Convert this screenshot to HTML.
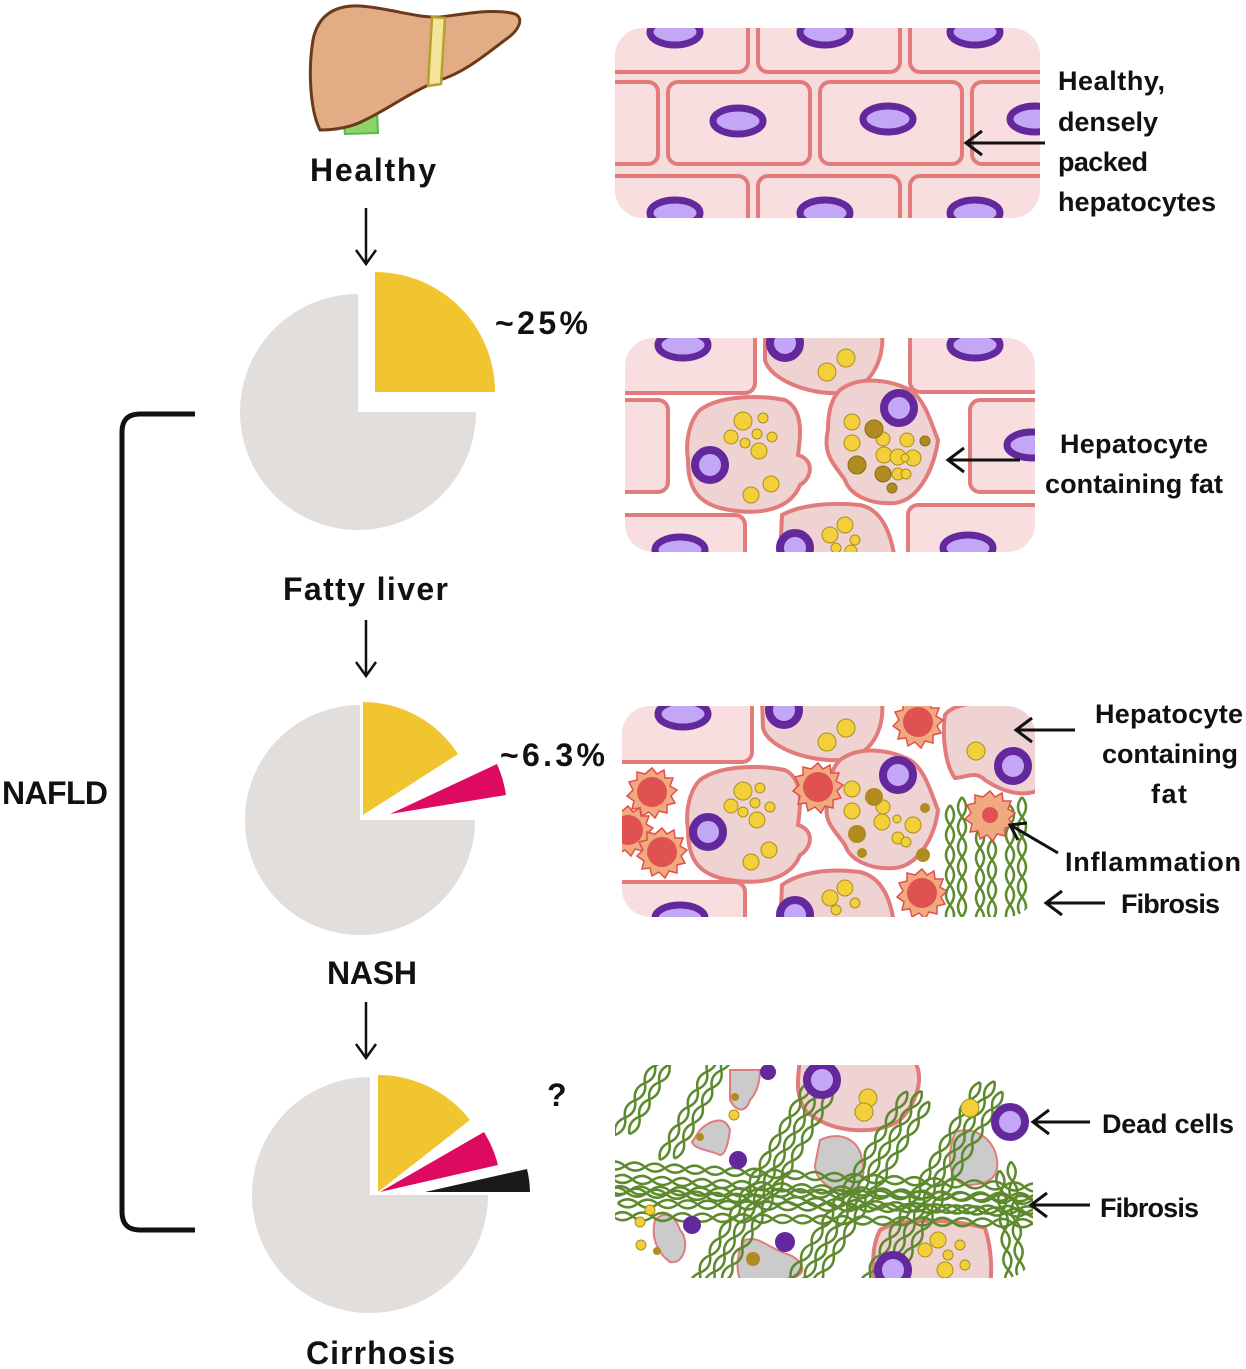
<!DOCTYPE html>
<html><head><meta charset="utf-8"><style>
html,body{margin:0;padding:0;background:#fff}
svg{display:block}
text{font-family:"Liberation Sans",sans-serif;font-weight:bold;fill:#111}
</style></head><body>
<svg width="1246" height="1369" viewBox="0 0 1246 1369" xmlns="http://www.w3.org/2000/svg">
<defs>
<g id="nuc"><ellipse cx="0" cy="0" rx="25" ry="13" fill="#c3a6f5" stroke="#63289c" stroke-width="7"/></g>
<g id="rnuc"><circle cx="0" cy="0" r="15" fill="#c3a6f5" stroke="#63289c" stroke-width="8"/></g>
<g id="red"><polygon points="0,-24 5,-18 12,-22 13,-14 21,-14 18,-6 25,-2 19,4 23,11 15,13 15,21 7,19 3,26 -3,20 -10,24 -12,16 -20,17 -18,9 -25,4 -19,-2 -23,-10 -15,-12 -15,-20 -7,-18" fill="#f0aa80" stroke="#e0504a" stroke-width="1.5"/><circle r="15" fill="#e05252"/></g>
<path id="wA" d="M0,0 Q10,-8 20,0 T40,0 T60,0 T80,0 T100,0 T120,0 T140,0 T160,0 T180,0 T200,0 T220,0 T240,0 T260,0 T280,0 T300,0 T320,0 T340,0 T360,0 T380,0 T400,0 T420,0 T440,0 T460,0 T480,0 T500,0"/>
<path id="wB" d="M0,0 Q10,8 20,0 T40,0 T60,0 T80,0 T100,0 T120,0 T140,0 T160,0 T180,0 T200,0 T220,0 T240,0 T260,0 T280,0 T300,0 T320,0 T340,0 T360,0 T380,0 T400,0 T420,0 T440,0 T460,0 T480,0 T500,0"/>
<path id="sA" d="M0,0 Q10,-8 20,0 T40,0 T60,0 T80,0 T100,0 T120,0"/>
<path id="sB" d="M0,0 Q10,8 20,0 T40,0 T60,0 T80,0 T100,0 T120,0"/>
<path id="mA" d="M0,0 Q10,-8 20,0 T40,0 T60,0 T80,0 T100,0 T120,0 T140,0 T160,0 T180,0 T200,0 T220,0 T240,0"/>
<path id="mB" d="M0,0 Q10,8 20,0 T40,0 T60,0 T80,0 T100,0 T120,0 T140,0 T160,0 T180,0 T200,0 T220,0 T240,0"/>
<g id="fib" fill="none" stroke="#5d8a2d" stroke-width="2.5">
<use href="#wA"/><use href="#wB"/>
<use href="#wA" x="8" y="13"/><use href="#wB" x="8" y="13"/>
<use href="#wA" x="3" y="26"/><use href="#wB" x="3" y="26"/>
</g>
<g id="fibS" fill="none" stroke="#5d8a2d" stroke-width="2.5">
<use href="#sA"/><use href="#sB"/>
<use href="#sA" x="8" y="12"/><use href="#sB" x="8" y="12"/>
</g>
<g id="fibM" fill="none" stroke="#5d8a2d" stroke-width="2.5">
<use href="#mA"/><use href="#mB"/>
<use href="#mA" x="8" y="12"/><use href="#mB" x="8" y="12"/>
<use href="#mA" x="3" y="24"/><use href="#mB" x="3" y="24"/>
</g>
<clipPath id="c1"><rect x="615" y="28" width="425" height="190" rx="28"/></clipPath>
<clipPath id="c2"><rect x="625" y="338" width="410" height="214" rx="28"/></clipPath>
<clipPath id="c3"><rect x="622" y="706" width="413" height="211" rx="28"/></clipPath>
<clipPath id="c4"><rect x="615" y="1065" width="418" height="213" rx="28"/></clipPath>
</defs>

<!-- liver -->
<path d="M343,118 L377,110 L378,133 L345,134 Z" fill="#8fd46a" stroke="#5bb84a" stroke-width="2"/>
<path d="M313,40 C318,15 335,5 360,6 C390,8 415,18 440,17 C465,14 495,8 515,14 C524,18 520,30 505,40 C485,55 465,72 440,80 C410,92 390,108 365,120 C350,128 335,130 320,130 C310,110 308,70 313,40 Z" fill="#e2ac85" stroke="#6b3a1a" stroke-width="3"/>
<path d="M432,17 L445,18 L441,84 L428,86 Z" fill="#f3e49a" stroke="#b5a030" stroke-width="2.5"/>

<text x="310" y="181" font-size="32" textLength="126">Healthy</text>
<g stroke="#111" stroke-width="2.5" fill="none">
<path d="M366,208 V264 M356,250 L366,264 L376,250"/>
<path d="M366,620 V676 M356,662 L366,676 L376,662"/>
<path d="M366,1002 V1058 M356,1044 L366,1058 L376,1044"/>
</g>

<!-- pie 1 -->
<path d="M358,412 L476,412 A118,118 0 1 1 358,294 Z" fill="#e2dedc"/>
<path d="M375,392 L375,272 A120,120 0 0 1 495,392 Z" fill="#f1c52f"/>
<text x="495" y="334" font-size="32" textLength="93">~25%</text>
<text x="283" y="600" font-size="32" textLength="165">Fatty liver</text>

<!-- pie 2 -->
<path d="M360,820 L475,820 A115,115 0 1 1 360,705 Z" fill="#e2dedc"/>
<path d="M363,815 L363,702 A113,113 0 0 1 458,754 Z" fill="#f1c52f"/>
<path d="M390,814 L497,764 A118,118 0 0 1 506,795 Z" fill="#de0a62"/>
<text x="500" y="766" font-size="32" textLength="105">~6.3%</text>
<text x="327" y="984" font-size="32" textLength="90">NASH</text>

<!-- pie 3 -->
<path d="M370,1195 L488,1195 A118,118 0 1 1 370,1077 Z" fill="#e2dedc"/>
<path d="M378,1192 L378,1075 A117,117 0 0 1 470,1120 Z" fill="#f1c52f"/>
<path d="M380,1192 L484,1132 A120,120 0 0 1 498,1165 Z" fill="#de0a62"/>
<path d="M425,1192 L527,1169 A105,105 0 0 1 530,1192 Z" fill="#1a1a1a"/>
<text x="547" y="1106" font-size="32">?</text>
<text x="306" y="1364" font-size="32" textLength="149">Cirrhosis</text>

<!-- bracket -->
<path d="M195,414 L140,414 Q122,414 122,432 L122,1212 Q122,1230 140,1230 L195,1230" fill="none" stroke="#111" stroke-width="5"/>
<text x="2" y="804" font-size="32" textLength="106">NAFLD</text>

<!-- panel 1 -->
<g clip-path="url(#c1)">
<rect x="615" y="28" width="425" height="190" fill="#f7dcdc"/>
<g fill="#f8dede" stroke="#e27b7b" stroke-width="4">
<rect x="600" y="5" width="148" height="67" rx="10"/><rect x="758" y="5" width="142" height="67" rx="10"/><rect x="910" y="5" width="145" height="67" rx="10"/>
<rect x="590" y="82" width="68" height="82" rx="10"/><rect x="668" y="82" width="142" height="82" rx="10"/><rect x="820" y="82" width="142" height="82" rx="10"/><rect x="972" y="82" width="90" height="82" rx="10"/>
<rect x="600" y="176" width="148" height="70" rx="10"/><rect x="758" y="176" width="142" height="70" rx="10"/><rect x="910" y="176" width="145" height="70" rx="10"/>
</g>
<use href="#nuc" x="675" y="32"/><use href="#nuc" x="825" y="32"/><use href="#nuc" x="975" y="32"/>
<use href="#nuc" x="738" y="121"/><use href="#nuc" x="888" y="119"/><use href="#nuc" x="1035" y="119"/>
<use href="#nuc" x="675" y="213"/><use href="#nuc" x="825" y="213"/><use href="#nuc" x="975" y="213"/>
</g>
<path d="M1045,143 H968 M982,131 L966,143 L982,155" fill="none" stroke="#111" stroke-width="3"/>
<g font-size="27">
<text x="1058" y="90" textLength="107">Healthy,</text>
<text x="1058" y="131" textLength="100">densely</text>
<text x="1058" y="171" textLength="90">packed</text>
<text x="1058" y="211" textLength="158">hepatocytes</text>
</g>

<!-- panel 2 -->
<g clip-path="url(#c2)">
<g fill="#f8dede" stroke="#e27b7b" stroke-width="4">
<rect x="605" y="318" width="150" height="75" rx="10"/><rect x="910" y="318" width="140" height="74" rx="10"/>
<rect x="590" y="400" width="78" height="92" rx="10"/><rect x="970" y="400" width="80" height="92" rx="10"/>
<rect x="605" y="515" width="140" height="60" rx="10"/><rect x="908" y="505" width="140" height="70" rx="10"/>
</g>
<g fill="#efd3d3" stroke="#e27b7b" stroke-width="4">
<path d="M765,330 L882,332 C885,360 870,390 840,393 C810,395 770,380 765,360 Z"/>
<path d="M700,410 C720,395 760,395 785,400 C805,410 800,440 798,455 C815,460 812,478 800,485 C790,510 760,515 730,510 C695,505 688,485 688,460 C685,440 690,420 700,410 Z"/>
<path d="M840,390 C860,375 890,380 910,390 C925,400 930,420 938,440 C935,465 920,500 895,503 C870,505 850,495 845,480 C835,465 822,455 828,430 C828,410 832,398 840,390 Z"/>
<path d="M782,515 C800,505 830,502 860,505 C885,510 892,540 895,560 L780,560 Z"/>
</g>
<use href="#nuc" x="683" y="345"/><use href="#nuc" x="975" y="345"/><use href="#nuc" x="1032" y="445"/><use href="#nuc" x="680" y="550"/><use href="#nuc" x="968" y="548"/>
<use href="#rnuc" x="710" y="465"/><use href="#rnuc" x="899" y="408"/><use href="#rnuc" x="785" y="343"/><use href="#rnuc" x="795" y="548"/>
<g fill="#f3d03a" stroke="#a88e20" stroke-width="1">
<circle cx="827" cy="372" r="9"/><circle cx="846" cy="358" r="9"/>
<circle cx="743" cy="421" r="9"/><circle cx="763" cy="418" r="5"/><circle cx="731" cy="437" r="7"/><circle cx="757" cy="434" r="5"/><circle cx="745" cy="443" r="5"/><circle cx="772" cy="437" r="5"/><circle cx="759" cy="451" r="8"/><circle cx="771" cy="484" r="8"/><circle cx="751" cy="495" r="8"/>
<circle cx="852" cy="422" r="8"/><circle cx="852" cy="443" r="8"/><circle cx="883" cy="439" r="7"/><circle cx="884" cy="455" r="8"/><circle cx="898" cy="457" r="8"/><circle cx="907" cy="440" r="7"/><circle cx="898" cy="474" r="6"/><circle cx="913" cy="458" r="8"/><circle cx="905" cy="458" r="4"/><circle cx="906" cy="474" r="5"/>
<circle cx="830" cy="535" r="8"/><circle cx="845" cy="525" r="8"/><circle cx="855" cy="540" r="5"/><circle cx="836" cy="548" r="5"/><circle cx="851" cy="551" r="6"/>
</g>
<g fill="#b08c20" stroke="#8a6e18" stroke-width="1">
<circle cx="874" cy="429" r="9"/><circle cx="857" cy="465" r="9"/><circle cx="883" cy="474" r="8"/><circle cx="925" cy="441" r="5"/><circle cx="892" cy="488" r="5"/>
</g>
</g>
<path d="M1020,460 H950 M964,448 L948,460 L964,472" fill="none" stroke="#111" stroke-width="3"/>
<g font-size="27">
<text x="1060" y="453" textLength="148">Hepatocyte</text>
<text x="1045" y="493" textLength="178">containing fat</text>
</g>

<!-- panel 3 -->
<g clip-path="url(#c3)">
<g fill="#f8dede" stroke="#e27b7b" stroke-width="4">
<rect x="605" y="688" width="147" height="74" rx="10"/>
<rect x="605" y="882" width="140" height="60" rx="10"/>
</g>
<g fill="#efd3d3" stroke="#e27b7b" stroke-width="4">
<path d="M762,700 L882,702 C885,730 870,758 840,760 C810,762 768,748 763,728 Z"/>
<path d="M945,715 C955,700 1000,700 1040,705 L1040,790 C1020,798 1000,790 985,780 C975,770 965,778 955,778 C945,765 942,735 945,715 Z"/>
<path d="M700,780 C720,765 760,765 785,770 C805,780 800,810 798,825 C815,830 812,848 800,855 C790,880 760,885 730,880 C695,875 688,855 688,830 C685,810 690,790 700,780 Z"/>
<path d="M840,760 C860,745 890,750 910,760 C925,770 930,790 938,810 C935,835 920,865 895,868 C870,870 850,860 845,845 C835,830 822,822 828,800 C828,780 832,768 840,760 Z"/>
<path d="M782,885 C800,872 830,868 860,872 C885,878 892,905 895,930 L780,930 Z"/>
</g>
<use href="#nuc" x="683" y="714"/><use href="#nuc" x="680" y="918"/>
<use href="#rnuc" x="708" y="832"/><use href="#rnuc" x="898" y="775"/><use href="#rnuc" x="784" y="710"/><use href="#rnuc" x="1013" y="766"/><use href="#rnuc" x="795" y="915"/>
<g fill="#f3d03a" stroke="#a88e20" stroke-width="1">
<circle cx="827" cy="742" r="9"/><circle cx="846" cy="728" r="9"/><circle cx="976" cy="751" r="9"/>
<circle cx="743" cy="791" r="9"/><circle cx="760" cy="788" r="5"/><circle cx="731" cy="806" r="7"/><circle cx="755" cy="803" r="5"/><circle cx="743" cy="812" r="5"/><circle cx="770" cy="807" r="5"/><circle cx="757" cy="820" r="8"/><circle cx="769" cy="850" r="8"/><circle cx="751" cy="862" r="8"/>
<circle cx="852" cy="789" r="8"/><circle cx="852" cy="811" r="8"/><circle cx="883" cy="807" r="7"/><circle cx="882" cy="822" r="8"/><circle cx="898" cy="838" r="6"/><circle cx="913" cy="825" r="8"/><circle cx="897" cy="819" r="4"/><circle cx="906" cy="842" r="5"/>
<circle cx="830" cy="898" r="8"/><circle cx="845" cy="888" r="8"/><circle cx="855" cy="903" r="5"/><circle cx="836" cy="910" r="5"/>
</g>
<g fill="#b08c20"><circle cx="874" cy="797" r="9"/><circle cx="857" cy="834" r="9"/><circle cx="925" cy="808" r="5"/><circle cx="862" cy="853" r="5"/><circle cx="923" cy="855" r="7"/></g>
<use href="#red" x="652" y="792"/><use href="#red" x="628" y="830"/><use href="#red" x="662" y="852"/><use href="#red" x="818" y="787"/><use href="#red" x="922" y="893"/><use href="#red" x="918" y="722"/>
<use href="#fibS" transform="translate(962,797) rotate(90)"/>
<use href="#fibS" transform="translate(992,800) rotate(90)"/>
<use href="#fibS" transform="translate(1022,797) rotate(90)"/>
<g transform="translate(990,815)"><polygon points="0,-24 5,-18 12,-22 13,-14 21,-14 18,-6 25,-2 19,4 23,11 15,13 15,21 7,19 3,26 -3,20 -10,24 -12,16 -20,17 -18,9 -25,4 -19,-2 -23,-10 -15,-12 -15,-20 -7,-18" fill="#f0aa80" stroke="#e0504a" stroke-width="1.5"/><circle r="8" fill="#e05252"/></g>
</g>
<g fill="none" stroke="#111" stroke-width="3">
<path d="M1075,730 H1018 M1032,718 L1016,730 L1032,742"/>
<path d="M1058,853 L1012,826 M1018,840 L1010,825 L1027,823"/>
<path d="M1105,903 H1048 M1062,891 L1046,903 L1062,915"/>
</g>
<g font-size="27">
<text x="1095" y="723" textLength="148">Hepatocyte</text>
<text x="1102" y="763" textLength="136">containing</text>
<text x="1151" y="803" textLength="36">fat</text>
<text x="1065" y="871" textLength="176">Inflammation</text>
<text x="1121" y="913" textLength="99">Fibrosis</text>
</g>

<!-- panel 4 -->
<g clip-path="url(#c4)">
<g fill="#efd3d3" stroke="#e27b7b" stroke-width="4">
<path d="M800,1060 L915,1062 C925,1080 915,1105 900,1120 C880,1135 830,1135 805,1110 C795,1095 798,1075 800,1060 Z"/>
<path d="M880,1230 C900,1218 950,1218 985,1228 C992,1250 992,1270 990,1290 L875,1290 C872,1265 872,1245 880,1230 Z"/>
</g>
<g fill="#cbcbcb" stroke="#e27b7b" stroke-width="2">
<path d="M820,1140 C840,1130 860,1140 862,1160 C866,1175 862,1190 845,1192 C830,1190 815,1180 815,1165 Z"/>
<path d="M955,1132 C975,1125 995,1140 997,1160 C1000,1180 985,1185 965,1185 C950,1180 945,1160 955,1132 Z"/>
<path d="M730,1070 L760,1070 C760,1085 755,1095 750,1100 C745,1115 735,1110 730,1100 Z"/>
<path d="M700,1130 C710,1120 725,1115 730,1130 C728,1145 725,1155 720,1155 C710,1150 695,1150 692,1142 Z"/>
<path d="M655,1220 C665,1210 675,1215 680,1230 C690,1240 685,1265 670,1262 C660,1255 650,1240 655,1220 Z"/>
<path d="M745,1240 C760,1235 770,1250 790,1255 C810,1265 805,1280 780,1280 L740,1280 C735,1265 738,1250 745,1240 Z"/>
</g>
<use href="#fib" transform="translate(605,1165) rotate(3)"/>
<use href="#fib" transform="translate(610,1190) rotate(1)"/>
<use href="#fibM" transform="translate(690,1290) rotate(-60)"/>
<use href="#fibM" transform="translate(780,1295) rotate(-58)"/>
<use href="#fibM" transform="translate(860,1290) rotate(-60)"/>
<use href="#fibS" transform="translate(615,1135) rotate(-60)"/>
<use href="#fibS" transform="translate(660,1160) rotate(-62)"/>
<use href="#fibS" transform="translate(1010,1290) rotate(-95)"/>
<use href="#rnuc" x="822" y="1080"/><use href="#rnuc" x="893" y="1270"/>
<use href="#rnuc" x="1010" y="1122"/>
<g fill="#63289c"><circle cx="738" cy="1160" r="9"/><circle cx="768" cy="1072" r="8"/><circle cx="692" cy="1225" r="9"/><circle cx="785" cy="1242" r="10"/></g>
<g fill="#f3d03a" stroke="#a88e20" stroke-width="1">
<circle cx="868" cy="1098" r="9"/><circle cx="864" cy="1112" r="9"/><circle cx="970" cy="1108" r="9"/>
<circle cx="734" cy="1115" r="5"/><circle cx="650" cy="1210" r="5"/><circle cx="640" cy="1222" r="5"/><circle cx="641" cy="1245" r="5"/>
<circle cx="938" cy="1240" r="8"/><circle cx="925" cy="1250" r="7"/><circle cx="948" cy="1255" r="5"/><circle cx="960" cy="1245" r="5"/><circle cx="945" cy="1270" r="8"/><circle cx="965" cy="1265" r="5"/>
</g>
<g fill="#b08c20"><circle cx="735" cy="1097" r="4"/><circle cx="700" cy="1137" r="4"/><circle cx="657" cy="1251" r="4"/><circle cx="753" cy="1259" r="7"/></g>
</g>
<g fill="none" stroke="#111" stroke-width="3">
<path d="M1090,1122 H1035 M1049,1110 L1033,1122 L1049,1134"/>
<path d="M1090,1205 H1033 M1047,1193 L1031,1205 L1047,1217"/>
</g>
<g font-size="27">
<text x="1102" y="1133" textLength="132">Dead cells</text>
<text x="1100" y="1217" textLength="99">Fibrosis</text>
</g>
</svg>
</body></html>
